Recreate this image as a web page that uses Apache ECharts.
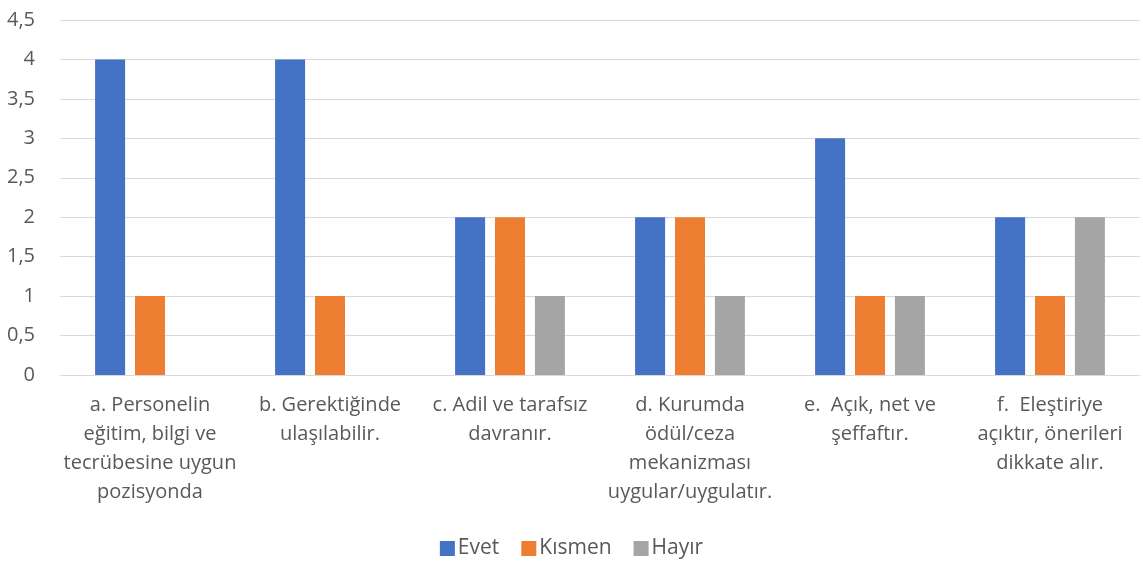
<!DOCTYPE html>
<html>
<head>
<meta charset="utf-8">
<script src="https://cdn.jsdelivr.net/npm/echarts@6/dist/echarts.min.js"></script>
<style>
  html, body { margin: 0; padding: 0; background: #fff; }
  #chart { width: 1143px; height: 561px; }
</style>
</head>
<body>
<div id="chart"></div>
<script>
// kategoriler (eksen etiketleri, satır kırılımları resimdeki gibi)
const categories = [
  "a. Personelin\neğitim, bilgi ve\ntecrübesine uygun\npozisyonda",
  "b. Gerektiğinde\nulaşılabilir.",
  "c. Adil ve tarafsız\ndavranır.",
  "d. Kurumda\nödül/ceza\nmekanizması\nuygular/uygulatır.",
  "e.  Açık, net ve\nşeffaftır.",
  "f.  Eleştiriye\naçıktır, önerileri\ndikkate alır."
];
const evet = [4, 4, 2, 2, 3, 2];
const kismen = [1, 1, 2, 2, 1, 1];
const hayir = [0, 0, 1, 1, 1, 2];

const font = "'Open Sans', sans-serif";

let myChart = echarts.init(document.getElementById("chart"));
myChart.setOption({
  animation: false,
  textStyle: { fontFamily: font },
  grid: { left: 60, right: 3, top: 20, bottom: 186 },
  legend: {
    data: ["Evet", "Kısmen", "Hayır"],
    top: 533,
    left: "center",
    icon: "rect",
    itemWidth: 15,
    itemHeight: 15,
    itemGap: 22,
    textStyle: { color: "#595959", fontSize: 21, fontFamily: font, padding: [0, 0, 0, -2] }
  },
  xAxis: {
    type: "category",
    data: categories,
    axisLine: { lineStyle: { color: "#d9d9d9" } },
    axisTick: { show: false },
    axisLabel: {
      interval: 0,
      color: "#595959",
      fontSize: 20,
      lineHeight: 29,
      margin: 16,
      fontFamily: font
    }
  },
  yAxis: {
    type: "value",
    min: 0,
    max: 4.5,
    interval: 0.5,
    axisLine: { show: false },
    axisTick: { show: false },
    splitLine: { lineStyle: { color: "#d9d9d9" } },
    axisLabel: {
      color: "#595959",
      fontSize: 20,
      margin: 25,
      fontFamily: font,
      formatter: function (v) { return String(v).replace(".", ","); }
    }
  },
  series: [
    { name: "Evet", type: "bar", data: evet, barWidth: 30, barGap: "33%", itemStyle: { color: "#4472C4" } },
    { name: "Kısmen", type: "bar", data: kismen, barWidth: 30, barGap: "33%", itemStyle: { color: "#ED7D31" } },
    { name: "Hayır", type: "bar", data: hayir, barWidth: 30, barGap: "33%", itemStyle: { color: "#A5A5A5" } }
  ]
});
</script>
</body>
</html>
